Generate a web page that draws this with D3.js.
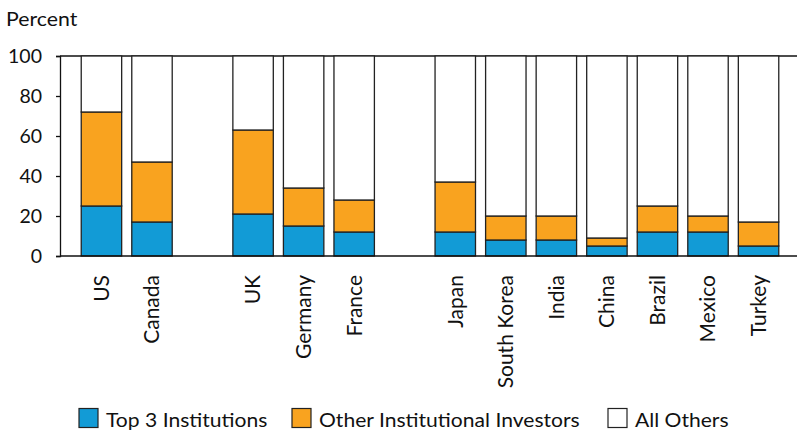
<!DOCTYPE html>
<html>
<head>
<meta charset="utf-8">
<script src="https://cdn.jsdelivr.net/npm/d3@7"></script>
<style>
  body { margin: 0; background: #fff; }
  text { font-family: Lato, "Open Sans", sans-serif; fill: #111; }
</style>
</head>
<body>
<div class="chart"></div>
<script>
// DATA ------------------------------------
// blank entries keep the gaps between country groups
const countries = ['US', 'Canada', '', 'UK', 'Germany', 'France', ' ',
    'Japan', 'South Korea', 'India', 'China', 'Brazil', 'Mexico', 'Turkey'];
const top3 = [25, 17, null, 21, 15, 12, null, 12, 8, 8, 5, 12, 12, 5];
const otherInst = [47, 30, null, 42, 19, 16, null, 25, 12, 12, 4, 13, 8, 12];
const seriesNames = ['Top 3 Institutions', 'Other Institutional Investors', 'All Others'];
const colors = ['#129bd6', '#f9a31f', '#ffffff'];
const yTicks = [0, 20, 40, 60, 80, 100];

// CHART INIT ------------------------------
const width = 797, height = 430;
const margin = { top: 56, right: 0, bottom: 174, left: 60 };

const svg = d3.select('.chart')
    .append('svg')
    .attr('width', width)
    .attr('height', height);

const xScale = d3.scaleBand()
    .domain(countries)
    .range([margin.left, 800])
    .paddingInner(0.2)
    .paddingOuter(0.42);

const yScale = d3.scaleLinear()
    .domain([0, 100])
    .range([height - margin.bottom, margin.top]);

// build stacked rows
const rows = countries.map((c, i) => ({
    country: c,
    top: top3[i],
    other: otherInst[i],
    rest: top3[i] == null ? null : 100 - top3[i] - otherInst[i]
})).filter(d => d.top != null);

const stack = d3.stack().keys(['top', 'other', 'rest'])(rows);

// frame line at top
svg.append('line')
    .attr('x1', margin.left).attr('x2', width)
    .attr('y1', yScale(100)).attr('y2', yScale(100))
    .attr('stroke', '#111').attr('stroke-width', 1.3);

// bars
svg.append('g')
    .selectAll('g')
    .data(stack)
    .join('g')
    .attr('fill', (d, i) => colors[i])
    .selectAll('rect')
    .data(d => d)
    .join('rect')
    .attr('x', d => xScale(d.data.country))
    .attr('y', d => yScale(d[1]))
    .attr('width', xScale.bandwidth())
    .attr('height', d => yScale(d[0]) - yScale(d[1]))
    .attr('stroke', '#222')
    .attr('stroke-width', 1.3);

// y axis
const yAxis = d3.axisLeft(yScale)
    .tickValues(yTicks)
    .tickSize(4)
    .tickPadding(14);

const yDisplay = svg.append('g')
    .attr('transform', `translate(${margin.left},0)`)
    .call(yAxis);
yDisplay.select('.domain').attr('stroke', '#111').attr('stroke-width', 1.3);
yDisplay.selectAll('.tick line').attr('stroke', '#111').attr('stroke-width', 1.3);
yDisplay.selectAll('.tick text')
    .attr('font-size', 19.5)
    .attr('font-family', 'Lato, sans-serif')
    .attr('fill', '#111');

// x axis
const xAxis = d3.axisBottom(xScale).tickSize(0).tickPadding(0);
const xDisplay = svg.append('g')
    .attr('transform', `translate(0,${yScale(0)})`)
    .call(xAxis);
xDisplay.select('.domain')
    .attr('d', `M${margin.left},0H${width}`)
    .attr('stroke', '#111').attr('stroke-width', 1.3);
xDisplay.selectAll('.tick text')
    .attr('font-size', 21)
    .attr('font-family', 'Lato, sans-serif')
    .attr('fill', '#111')
    .attr('text-anchor', 'end')
    .attr('dy', '0.35em')
    .attr('transform', 'translate(0,19) rotate(-90)')
    .attr('y', 0);

// axis title (text in the source is a bit wide, so stretch it)
svg.append('text')
    .attr('transform', 'translate(6,26) scale(1.15,1)')
    .attr('font-size', 18.5)
    .text('Percent');

// legend
const legendX = [79, 292, 608];
const legend = svg.append('g')
    .selectAll('g')
    .data(seriesNames)
    .join('g')
    .attr('transform', (d, i) => `translate(${legendX[i]},408.5)`);

legend.append('rect')
    .attr('width', 19)
    .attr('height', 19)
    .attr('fill', (d, i) => colors[i])
    .attr('stroke', '#222')
    .attr('stroke-width', 1.2);

legend.append('text')
    .attr('transform', 'translate(27,18.5) scale(1.11,1)')
    .attr('font-size', 19)
    .text(d => d);
</script>
</body>
</html>
